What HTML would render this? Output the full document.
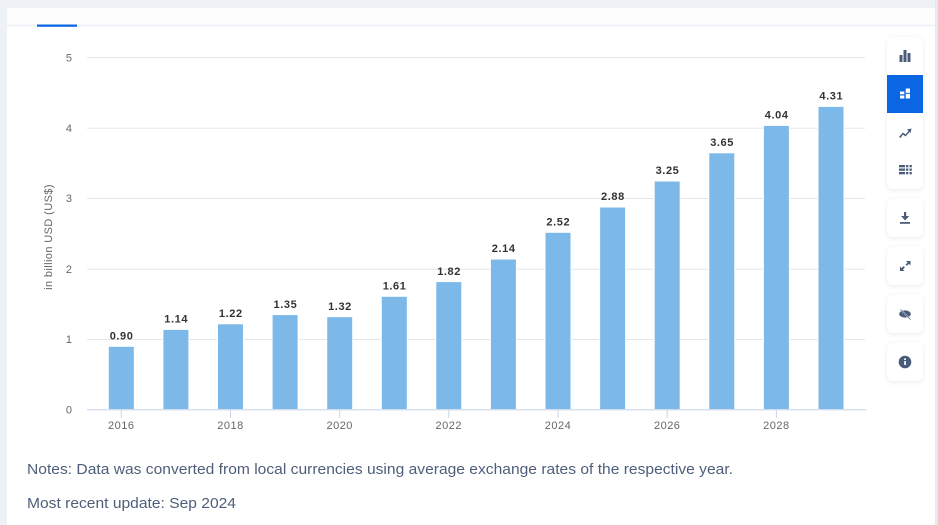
<!DOCTYPE html>
<html>
<head>
<meta charset="utf-8">
<style>
  html, body { margin:0; padding:0; }
  body { width:938px; height:525px; overflow:hidden; background:#eef1f6; position:relative; font-family:"Liberation Sans", sans-serif; }
  .panel { position:absolute; left:7px; top:8px; width:928px; height:517px; background:#ffffff; }
  .rightstrip { position:absolute; left:935px; top:0; width:3px; height:525px; background:#e6eaf0; }
  .btn { position:absolute; left:887px; width:36px; background:#fff; border-radius:6px; box-shadow:0 1px 5px rgba(40,60,100,0.10); }
  svg { position:absolute; left:0; top:0; }
</style>
</head>
<body>
<div class="panel"></div>
<div class="rightstrip"></div>

<div class="btn" style="top:37px;height:152px;"></div>
<div class="btn" style="top:199px;height:38px;"></div>
<div class="btn" style="top:247px;height:38px;"></div>
<div class="btn" style="top:295px;height:38px;"></div>
<div class="btn" style="top:343px;height:38px;"></div>

<svg width="938" height="525" viewBox="0 0 938 525" xmlns="http://www.w3.org/2000/svg">
  <!-- tab bar -->
  <rect x="7" y="8" width="928" height="16.5" fill="#fdfdfe"/>
  <rect x="7" y="24.5" width="928" height="2" fill="#f0f3f8"/>
  <rect x="37" y="24.5" width="40" height="2.3" fill="#0b66e4"/>

  <!-- gridlines -->
  <g stroke="#e6e6e6" stroke-width="1">
    <line x1="87" x2="865" y1="57.5" y2="57.5"/>
    <line x1="87" x2="865" y1="128.3" y2="128.3"/>
    <line x1="87" x2="865" y1="198.5" y2="198.5"/>
    <line x1="87" x2="865" y1="269.3" y2="269.3"/>
    <line x1="87" x2="865" y1="339.5" y2="339.5"/>
  </g>

  <!-- y labels -->
  <g font-size="11" fill="#666" text-anchor="end" font-family="Liberation Sans, sans-serif">
    <text x="72" y="61.5">5</text>
    <text x="72" y="132">4</text>
    <text x="72" y="202">3</text>
    <text x="72" y="273">2</text>
    <text x="72" y="343">1</text>
    <text x="72" y="413.5">0</text>
  </g>

  <!-- y axis title -->
  <text transform="translate(52,237) rotate(-90)" text-anchor="middle" font-size="11" fill="#666" letter-spacing="0.4" font-family="Liberation Sans, sans-serif">in billion USD (US$)</text>

  <!-- bars -->
  <g fill="#7cb9e9" stroke="#ffffff" stroke-width="1">
    <rect x="108.3" y="346.3" width="26" height="63.3"/>
    <rect x="162.9" y="329.4" width="26" height="80.2"/>
    <rect x="217.5" y="323.8" width="26" height="85.8"/>
    <rect x="272.1" y="314.6" width="26" height="95.0"/>
    <rect x="326.7" y="316.7" width="26" height="92.9"/>
    <rect x="381.3" y="296.3" width="26" height="113.3"/>
    <rect x="435.8" y="281.6" width="26" height="128.0"/>
    <rect x="490.4" y="259.0" width="26" height="150.6"/>
    <rect x="545.0" y="232.3" width="26" height="177.3"/>
    <rect x="599.6" y="207.0" width="26" height="202.6"/>
    <rect x="654.2" y="181.0" width="26" height="228.6"/>
    <rect x="708.8" y="152.8" width="26" height="256.8"/>
    <rect x="763.4" y="125.4" width="26" height="284.2"/>
    <rect x="818.0" y="106.4" width="26" height="303.2"/>
  </g>

  <!-- value labels -->
  <g font-size="11" font-weight="bold" fill="#333" text-anchor="middle" letter-spacing="0.6" font-family="Liberation Sans, sans-serif">
    <text x="121.6" y="339.5">0.90</text>
    <text x="176.2" y="322.5">1.14</text>
    <text x="230.8" y="317">1.22</text>
    <text x="285.4" y="307.8">1.35</text>
    <text x="340.0" y="310">1.32</text>
    <text x="394.6" y="289.5">1.61</text>
    <text x="449.1" y="274.8">1.82</text>
    <text x="503.7" y="252">2.14</text>
    <text x="558.3" y="225.5">2.52</text>
    <text x="612.9" y="200">2.88</text>
    <text x="667.5" y="174">3.25</text>
    <text x="722.1" y="146">3.65</text>
    <text x="776.7" y="118.5">4.04</text>
    <text x="831.3" y="99.5">4.31</text>
  </g>

  <!-- x axis -->
  <line x1="87" x2="866" y1="409.8" y2="409.8" stroke="#ccd6eb" stroke-width="1.2"/>
  <g stroke="#ccd6eb" stroke-width="1">
    <line x1="121.3" x2="121.3" y1="410" y2="418"/>
    <line x1="230.5" x2="230.5" y1="410" y2="418"/>
    <line x1="339.7" x2="339.7" y1="410" y2="418"/>
    <line x1="448.8" x2="448.8" y1="410" y2="418"/>
    <line x1="558.0" x2="558.0" y1="410" y2="418"/>
    <line x1="667.2" x2="667.2" y1="410" y2="418"/>
    <line x1="776.4" x2="776.4" y1="410" y2="418"/>
  </g>
  <g font-size="11" fill="#666" text-anchor="middle" letter-spacing="0.5" font-family="Liberation Sans, sans-serif">
    <text x="121.3" y="429">2016</text>
    <text x="230.5" y="429">2018</text>
    <text x="339.7" y="429">2020</text>
    <text x="448.8" y="429">2022</text>
    <text x="558.0" y="429">2024</text>
    <text x="667.2" y="429">2026</text>
    <text x="776.4" y="429">2028</text>
  </g>

  <!-- notes -->
  <g font-size="15" fill="#4e5e7a" font-family="Liberation Sans, sans-serif">
    <text x="27" y="474" textLength="706" lengthAdjust="spacingAndGlyphs">Notes: Data was converted from local currencies using average exchange rates of the respective year.</text>
    <text x="27" y="508" textLength="209" lengthAdjust="spacingAndGlyphs">Most recent update: Sep 2024</text>
  </g>

  <!-- toolbar active button -->
  <rect x="887" y="75" width="36" height="38" fill="#0b66e4"/>

  <!-- icons -->
  <g fill="#4a5c7a">
    <rect x="899.5" y="55" width="3" height="7"/>
    <rect x="903.5" y="50" width="3" height="12"/>
    <rect x="907.5" y="53" width="3" height="9"/>
    <path d="M899 137 L903 132.5 L905.5 134.5 L908.5 131 L907 129.5 L911.5 128.5 L910.5 133 L909.5 132 L905.5 136.5 L903 134.5 L900.5 138 Z"/>
    <rect x="899" y="165" width="6" height="2.3"/>
    <rect x="899" y="168.5" width="6" height="2.3"/>
    <rect x="899" y="172" width="6" height="2.3"/>
    <rect x="906" y="165" width="2.3" height="2.3"/>
    <rect x="906" y="168.5" width="2.3" height="2.3"/>
    <rect x="906" y="172" width="2.3" height="2.3"/>
    <rect x="909.5" y="165" width="2.3" height="2.3"/>
    <rect x="909.5" y="168.5" width="2.3" height="2.3"/>
    <rect x="909.5" y="172" width="2.3" height="2.3"/>
    <rect x="904" y="212" width="2.2" height="5"/>
    <path d="M901 216 L909.2 216 L905.1 220.5 Z"/>
    <rect x="900" y="222" width="10" height="1.8"/>
    <path d="M900 271 L900 266.5 L901.6 268.1 L903.6 266.1 L904.9 267.4 L902.9 269.4 L904.5 271 Z"/>
    <path d="M910.5 261 L910.5 265.5 L908.9 263.9 L906.9 265.9 L905.6 264.6 L907.6 262.6 L906 261 Z"/>
    <ellipse cx="905" cy="314" rx="5.8" ry="3.6"/>
    <circle cx="905" cy="362" r="6.3"/>
  </g>
  <line x1="900" y1="309" x2="910" y2="319" stroke="#ffffff" stroke-width="1.3"/>
  <line x1="900.5" y1="309.5" x2="910.5" y2="319.5" stroke="#4a5c7a" stroke-width="0.8"/>
  <rect x="904.2" y="361" width="1.7" height="4" fill="#fff"/>
  <rect x="904.2" y="358.3" width="1.7" height="1.7" fill="#fff"/>
  <g fill="#ffffff">
    <rect x="900" y="91.5" width="4.3" height="2.8"/>
    <rect x="900" y="95.5" width="4.3" height="3"/>
    <rect x="905.7" y="88.5" width="4.3" height="4.3"/>
    <rect x="905.7" y="93.8" width="4.3" height="4.7"/>
  </g>
</svg>
</body>
</html>
